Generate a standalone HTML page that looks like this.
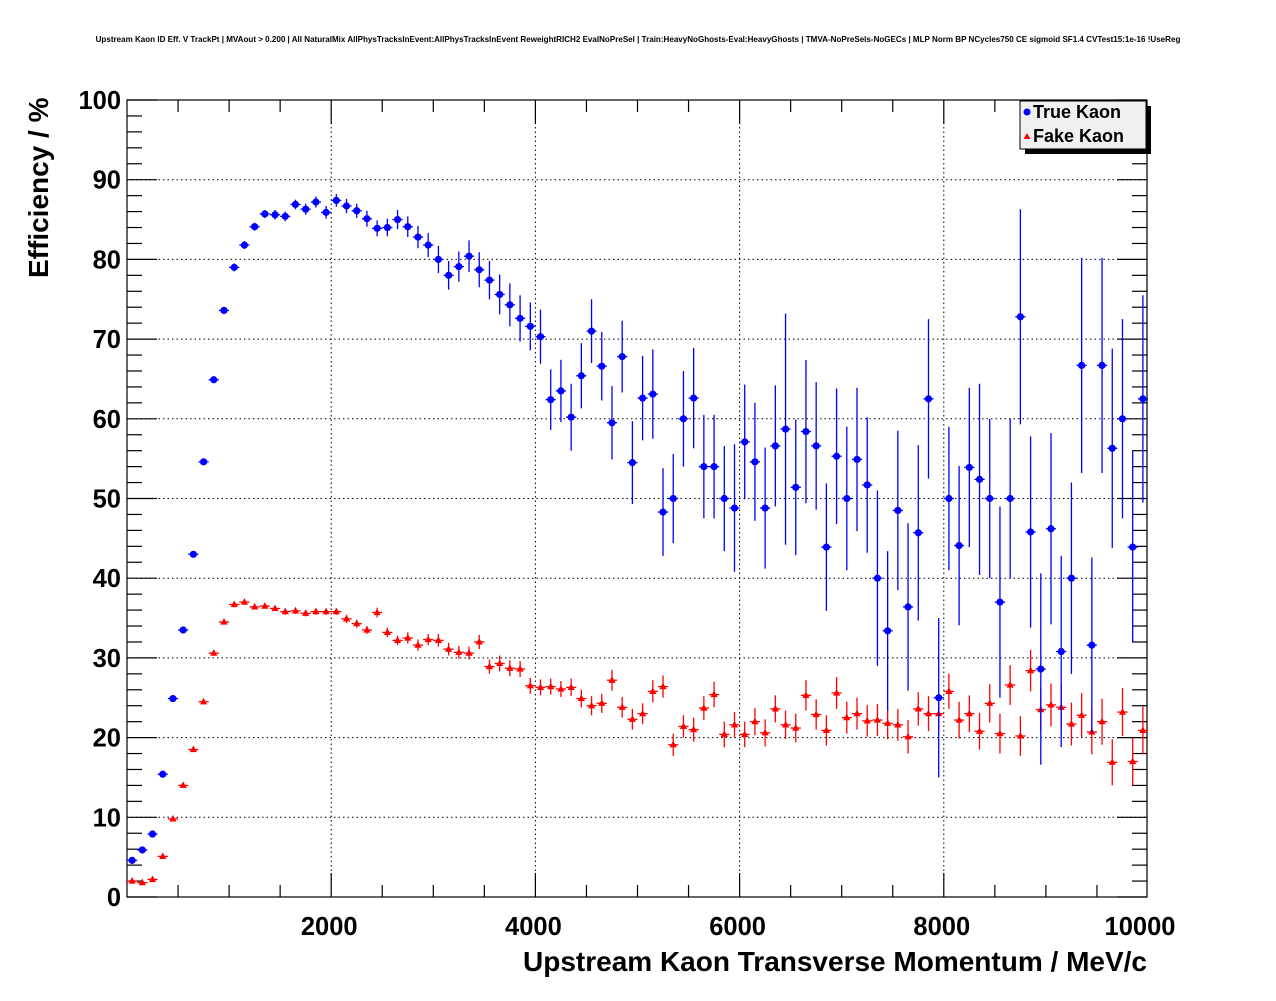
<!DOCTYPE html>
<html><head><meta charset="utf-8"><style>
body{margin:0;background:#fff;}
svg text{font-family:"Liberation Sans",Arial,sans-serif;font-weight:bold;}
</style></head><body>
<svg id="chart" width="1276" height="996" xmlns="http://www.w3.org/2000/svg">
<rect width="1276" height="996" fill="#fff"/>
<text x="638" y="42" font-size="8.05" text-anchor="middle">Upstream Kaon ID Eff. V TrackPt | MVAout &gt; 0.200 | All NaturalMix AllPhysTracksInEvent:AllPhysTracksInEvent ReweightRICH2 EvalNoPreSel | Train:HeavyNoGhosts-Eval:HeavyGhosts | TMVA-NoPreSels-NoGECs | MLP Norm BP NCycles750 CE sigmoid SF1.4 CVTest15:1e-16 !UseReg</text>
<g id="grid"></g><g id="axes"></g><g id="marks"></g>
<text x="1147" y="971" font-size="28" text-anchor="end">Upstream Kaon Transverse Momentum / MeV/c</text>
<text transform="translate(48,278) rotate(-90)" font-size="28" text-anchor="start">Efficiency / %</text>
<g>
<rect x="1025" y="106" width="126" height="48" fill="#000"/>
<rect x="1020" y="101" width="126" height="48" fill="#f0f0f0" stroke="#000" stroke-width="1"/>
<circle cx="1027" cy="112" r="3.5" fill="#0000ff"/>
<text x="1033" y="118" font-size="18">True Kaon</text>
<polygon points="1027,133 1023.5,139 1030.5,139" fill="#ff0000"/>
<text x="1033" y="142" font-size="18">Fake Kaon</text>
</g>
</svg>
<script>
const trueEff=[4.6,5.9,7.9,15.4,24.9,33.5,43,54.6,64.9,73.6,79,81.8,84.1,85.7,85.6,85.4,86.9,86.3,87.2,85.9,87.4,86.7,86.1,85.1,83.9,84,85,84.1,82.8,81.8,80,78,79.1,80.4,78.7,77.4,75.6,74.3,72.6,71.6,70.3,62.4,63.5,60.2,65.4,71,66.6,59.5,67.8,54.5,62.6,63.1,48.3,50,60,62.6,54,54,50,48.8,57.1,54.6,48.8,56.6,58.7,51.4,58.4,56.6,43.9,55.3,50,54.9,51.7,40,33.4,48.5,36.4,45.7,62.5,25,50,44.1,53.9,52.4,50,37,50,72.8,45.8,28.6,46.2,30.8,40,66.7,31.6,66.7,56.3,60,43.9,62.5];
const trueErr=[0.3,0.3,0.3,0.3,0.4,0.4,0.4,0.4,0.4,0.4,0.5,0.5,0.5,0.5,0.6,0.6,0.6,0.7,0.7,0.8,0.8,0.9,0.9,1,1,1.1,1.2,1.3,1.4,1.5,1.7,1.8,1.9,2,2.2,2.4,2.5,2.7,2.9,3,3.4,3.8,3.9,4.2,4.1,4,4.3,4.6,4.5,5.2,5.3,5.6,5.5,5.6,6,6.3,6.5,6.5,6.6,8,7.2,7.4,7.6,7.6,14.5,8.5,9,8,8,8.5,9,9,8.5,11,10,10,10.5,11,10,10,9,10,10,12,10,12,10,13.5,12,12,12,12,12,13.5,11,13.5,12.5,12.5,12,13];
const fakeEff=[2,1.8,2.2,5.1,9.8,14,18.5,24.5,30.6,34.5,36.7,37,36.4,36.5,36.2,35.8,35.9,35.6,35.8,35.8,35.8,34.9,34.3,33.5,35.7,33.2,32.2,32.5,31.6,32.3,32.2,31.1,30.7,30.6,32,28.9,29.3,28.7,28.6,26.5,26.3,26.4,26.1,26.3,24.9,24,24.3,27.2,23.8,22.3,23,25.8,26.4,19.1,21.4,21,23.7,25.4,20.4,21.6,20.4,22,20.6,23.6,21.6,21.2,25.3,22.9,20.9,25.6,22.5,23,22.1,22.2,21.8,21.6,20.1,23.6,23,23,25.8,22.2,23,20.8,24.3,20.5,26.6,20.2,28.4,23.5,24.1,23.8,21.7,22.8,20.7,22,16.9,23.2,17,20.9];
const fakeErr=[0.2,0.2,0.2,0.2,0.2,0.3,0.3,0.3,0.3,0.3,0.3,0.3,0.3,0.3,0.3,0.4,0.4,0.4,0.4,0.4,0.4,0.5,0.5,0.5,0.6,0.6,0.6,0.7,0.7,0.7,0.8,0.8,0.8,0.8,0.9,0.9,1,1,1,1,1,1,1,1.1,1.1,1.2,1.2,1.3,1.3,1.3,1.3,1.4,1.4,1.4,1.4,1.5,1.5,1.6,1.6,1.6,1.6,1.7,1.7,1.7,1.8,1.8,1.9,1.9,1.9,2,2,2,2,2,2,2,2.1,2.1,2.2,2.2,2.2,2.3,2.3,2.3,2.4,2.5,2.5,2.5,2.6,2.6,2.7,2.7,2.7,2.8,2.8,2.9,2.9,3,3,3];
const xTicks=[2000,4000,6000,8000,10000];
const yTicks=[0,10,20,30,40,50,60,70,80,90,100];
const binWidth=100;

const NS="http://www.w3.org/2000/svg";
const L=127,R=1147,T=100,B=897;
const xs=v=>127+v*0.1021;
const ys=v=>B-(v/100)*(B-T);
function mk(tag,attrs,parent){const e=document.createElementNS(NS,tag);for(const k in attrs)e.setAttribute(k,attrs[k]);parent.appendChild(e);return e;}
const grid=document.getElementById('grid'),axes=document.getElementById('axes'),marks=document.getElementById('marks');
xTicks.forEach(t=>{if(t<10000){const g=mk('line',{x1:xs(t),x2:xs(t),y1:T,y2:B,stroke:'#000','stroke-width':1,'stroke-dasharray':'1.5,3'},grid);

}});
yTicks.forEach(t=>{if(t>0&&t<100){const g=mk('line',{x1:L,x2:R,y1:ys(t),y2:ys(t),stroke:'#000','stroke-width':1,'stroke-dasharray':'1.5,3'},grid);

}});
const fr=mk('rect',{x:L,y:T,width:R-L,height:B-T,fill:'none',stroke:'#000','stroke-width':1.2},axes);


for(let v=500;v<10000;v+=500){const major=xTicks.includes(v);const len=major?24:12;
mk('line',{x1:xs(v),x2:xs(v),y1:B,y2:B-len,stroke:'#000','stroke-width':1.2},axes);
mk('line',{x1:xs(v),x2:xs(v),y1:T,y2:T+len,stroke:'#000','stroke-width':1.2},axes);}
for(let v=0;v<=100;v+=2){const major=v%10===0;const len=major?30:15;
mk('line',{x1:L,x2:L+len,y1:ys(v),y2:ys(v),stroke:'#000','stroke-width':1.2},axes);
mk('line',{x1:R,x2:R-len,y1:ys(v),y2:ys(v),stroke:'#000','stroke-width':1.2},axes);}
xTicks.forEach(t=>{const tx=mk('text',{x:t===10000?1140:xs(t)-2,y:935,'font-size':25.5,'text-anchor':'middle'},axes);tx.textContent=t;

});
yTicks.forEach(t=>{const tx=mk('text',{x:121,y:ys(t)+9,'font-size':25.5,'text-anchor':'end'},axes);tx.textContent=t;

});
function series(vals,errs,color,shape,name){
vals.forEach((v,i)=>{const c=(i+0.5)*binWidth;const cx=xs(c),cy=ys(v);
const g=mk('g',{},marks);


mk('line',{x1:xs(c-binWidth/2),x2:xs(c+binWidth/2),y1:cy,y2:cy,stroke:color,'stroke-width':1.3},g);
mk('line',{x1:cx,x2:cx,y1:ys(Math.min(100,v+errs[i])),y2:ys(Math.max(0,v-errs[i])),stroke:color,'stroke-width':1.3},g);
if(shape==='c')mk('circle',{cx:cx,cy:cy,r:3.6,fill:color},g);
else mk('polygon',{points:`${cx},${cy-4} ${cx-3.6},${cy+2.6} ${cx+3.6},${cy+2.6}`,fill:color},g);});}
series(fakeEff,fakeErr,'#ff0000','t','fake-kaon');
series(trueEff,trueErr,'#0000ff','c','true-kaon');
</script>
</body></html>
